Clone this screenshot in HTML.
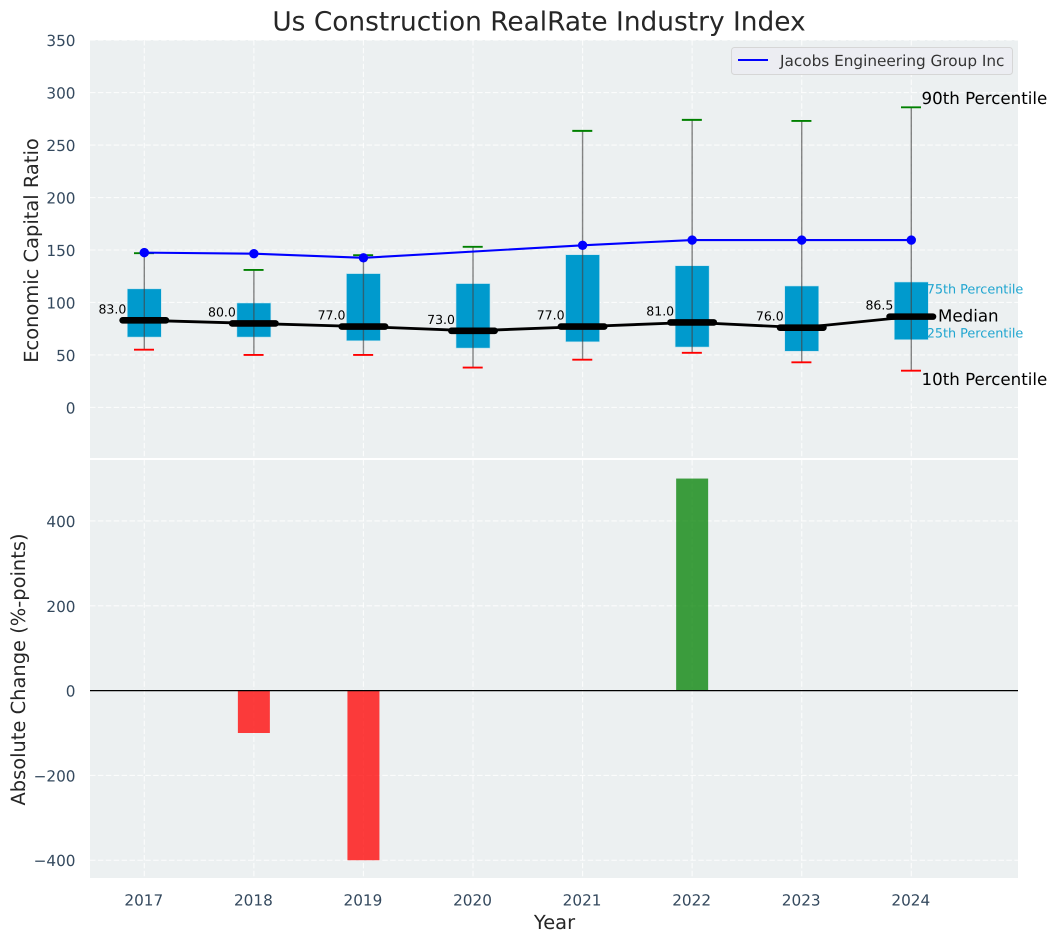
<!DOCTYPE html>
<html>
<head>
<meta charset="utf-8">
<style>
html,body{margin:0;padding:0;background:#fff;width:1057px;height:942px;overflow:hidden}
svg{display:block;font-family:"DejaVu Sans","Liberation Sans",sans-serif;text-rendering:geometricPrecision}
</style>
</head>
<body>
<svg id="chart" width="1057" height="942" viewBox="0 0 1057 942" xmlns="http://www.w3.org/2000/svg"></svg>
<script>
const years = [2017, 2018, 2019, 2020, 2021, 2022, 2023, 2024];
const p10 = [55, 50, 50, 38, 45.5, 52, 43, 35];
const q1 = [67, 67, 63.5, 56.5, 62.5, 57.5, 53.5, 64.5];
const medians = [83, 80, 77, 73, 77, 81, 76, 86.5];
const q3 = [113, 99.5, 127.5, 118, 145.5, 135, 115.7, 119.5];
const p90 = [147, 131, 145, 153, 263.5, 274, 273, 286];
const company = [147.5, 146.5, 142.5, null, 154.5, 159.5, 159.5, 159.5];
const changes = [0, -100, -400, 0, 0, 500, 0, 0];
const topTicks = [0, 50, 100, 150, 200, 250, 300, 350];
const bottomTicks = [-400, -200, 0, 200, 400];

const NS = 'http://www.w3.org/2000/svg';
const svg = document.getElementById('chart');
const L = 90, R = 1018, T1 = 40, B1 = 458, T2 = 460, B2 = 878;
const x = v => 144.3 + (v - 2017) * 109.57;
const yTop = v => 407.4 - v * 1.0494;
const yBot = v => 690.6 - v * 0.4241;

function add(tag, attrs, parent, text) {
  const el = document.createElementNS(NS, tag);
  for (const k in attrs) el.setAttribute(k, attrs[k]);
  if (text !== undefined) el.textContent = text;
  (parent || svg).appendChild(el);
  return el;
}
function fmt(v) { return String(v).replace('-', '\u2212'); }

let el;
el = add('rect', {x: L, y: T1, width: R - L, height: B1 - T1, fill: '#ecf0f1'});


el = add('rect', {x: L, y: T2, width: R - L, height: B2 - T2, fill: '#ecf0f1'});



const gridStyle = {stroke: '#fff', 'stroke-width': 1.1, 'stroke-dasharray': '5.5 2.4', opacity: 0.8};

years.forEach(yr => {
  el = add('line', {x1: x(yr), x2: x(yr), y1: T1, y2: B1, ...gridStyle});
  
  
  el = add('line', {x1: x(yr), x2: x(yr), y1: T2, y2: B2, ...gridStyle});
  
  
  el = add('text', {x: x(yr) - 0.5, y: 905.5, 'text-anchor': 'middle', 'font-size': 15.28, fill: '#34495e'}, svg, yr);
  
  
});

topTicks.forEach(t => {
  el = add('line', {x1: L, x2: R, y1: yTop(t), y2: yTop(t), ...gridStyle});
  
  
  el = add('text', {x: 75.5, y: yTop(t) + 6, 'text-anchor': 'end', 'font-size': 15.28, fill: '#34495e'}, svg, fmt(t));
  
  
});

bottomTicks.forEach(t => {
  el = add('line', {x1: L, x2: R, y1: yBot(t), y2: yBot(t), ...gridStyle});
  
  
  el = add('text', {x: 75.5, y: yBot(t) + 6, 'text-anchor': 'end', 'font-size': 15.28, fill: '#34495e'}, svg, fmt(t));
  
  
});

/* Percentile boxes */
years.forEach((yr, i) => {
  el = add('rect', {x: x(yr) - 17, y: yTop(q3[i]), width: 34, height: yTop(q1[i]) - yTop(q3[i]), fill: '#009acd', stroke: '#bfe3ef', 'stroke-width': 0.6});
  
  
});

/* Whiskers and caps */
years.forEach((yr, i) => {
  el = add('line', {x1: x(yr), x2: x(yr), y1: yTop(p10[i]), y2: yTop(p90[i]), stroke: '#444', 'stroke-opacity': 0.65, 'stroke-width': 1.4});
  
  
  el = add('line', {x1: x(yr) - 10.3, x2: x(yr) + 9.7, y1: yTop(p90[i]), y2: yTop(p90[i]), stroke: '#008000', 'stroke-width': 1.9});
  
  
  el = add('line', {x1: x(yr) - 10.3, x2: x(yr) + 9.7, y1: yTop(p10[i]), y2: yTop(p10[i]), stroke: '#ff0000', 'stroke-width': 1.9});
  
  
});

/* Median trend line */
el = add('polyline', {points: years.map((yr, i) => x(yr) + ',' + yTop(medians[i])).join(' '), fill: 'none', stroke: '#000', 'stroke-width': 2.8});



years.forEach((yr, i) => {
  el = add('line', {x1: x(yr) - 21.7, x2: x(yr) + 21.7, y1: yTop(medians[i]), y2: yTop(medians[i]), stroke: '#000', 'stroke-width': 6.6, 'stroke-linecap': 'round'});
  
  
  el = add('text', {x: x(yr) - 18, y: yTop(medians[i]) - 7, 'text-anchor': 'end', 'font-size': 12.5, fill: '#000'}, svg, medians[i].toFixed(1));
  
  
});

/* Company line */
const companyPts = years.map((yr, i) => company[i] === null ? null : [x(yr), yTop(company[i])]).filter(Boolean);
el = add('polyline', {points: companyPts.map(p => p.join(',')).join(' '), fill: 'none', stroke: '#0000ff', 'stroke-width': 2.1});


years.forEach((yr, i) => {
  if (company[i] === null) return;
  el = add('circle', {cx: x(yr), cy: yTop(company[i]), r: 4.7, fill: '#0000ff'});
  
  
});

/* Percentile annotations */
el = add('text', {x: 921.5, y: 104, 'font-size': 16.67, fill: '#000'}, svg, '90th Percentile');


el = add('text', {x: 926.7, y: 293.3, 'font-size': 12.8, fill: '#1fa5d0'}, svg, '75th Percentile');


el = add('text', {x: 938, y: 321.7, 'font-size': 16.67, fill: '#000'}, svg, 'Median');


el = add('text', {x: 926.7, y: 337.3, 'font-size': 12.8, fill: '#1fa5d0'}, svg, '25th Percentile');


el = add('text', {x: 921.5, y: 385, 'font-size': 16.67, fill: '#000'}, svg, '10th Percentile');



/* Legend */
const legend = add('g', {});


el = add('rect', {x: 731.5, y: 47.5, width: 281, height: 27, rx: 3, fill: '#ecedf2', stroke: '#d6d6d6', 'stroke-width': 1}, legend);


el = add('line', {x1: 738, x2: 768, y1: 60, y2: 60, stroke: '#0000ff', 'stroke-width': 2}, legend);


el = add('text', {x: 780, y: 66, 'font-size': 15.28, fill: '#333'}, legend, 'Jacobs Engineering Group Inc');



/* Change bars */
years.forEach((yr, i) => {
  const v = changes[i];
  if (v === 0) return;
  const y0 = Math.min(yBot(v), yBot(0));
  el = add('rect', {x: x(yr) - 16, y: y0, width: 32, height: Math.abs(yBot(v) - yBot(0)), fill: v > 0 ? '#008000' : '#ff0000', 'fill-opacity': v > 0 ? 0.75 : 0.76});
  
  
});

el = add('line', {x1: L, x2: R, y1: yBot(0), y2: yBot(0), stroke: '#000', 'stroke-width': 1.3});



/* Titles */
el = add('text', {x: 539, y: 30.5, 'text-anchor': 'middle', 'font-size': 26.4, fill: '#262626'}, svg, 'Us Construction RealRate Industry Index');


el = add('text', {x: 554.5, y: 929, 'text-anchor': 'middle', 'font-size': 19.44, fill: '#262626'}, svg, 'Year');


el = add('text', {transform: 'translate(38 250.5) rotate(-90)', 'text-anchor': 'middle', 'font-size': 19.44, fill: '#262626'}, svg, 'Economic Capital Ratio');


el = add('text', {transform: 'translate(25 669.5) rotate(-90)', 'text-anchor': 'middle', 'font-size': 19.44, fill: '#262626'}, svg, 'Absolute Change (%-points)');


</script>
</body>
</html>
